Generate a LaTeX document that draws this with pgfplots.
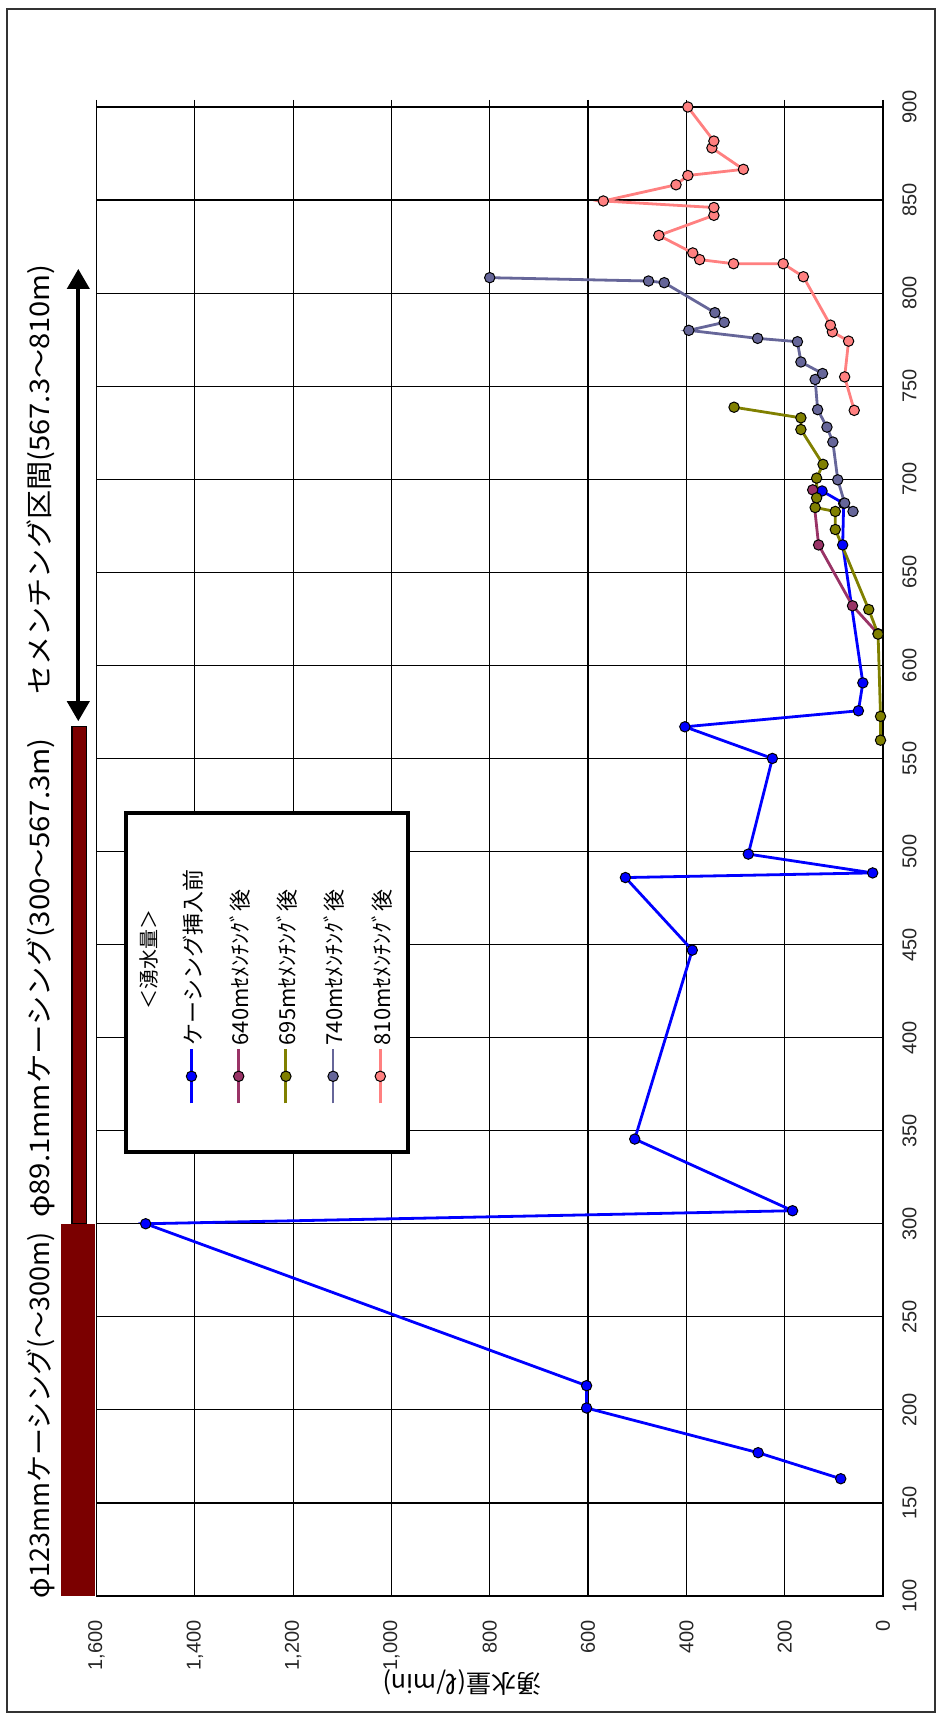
\documentclass[border=0pt]{standalone}
\usepackage{fontspec}
\usepackage{graphicx}
\usepackage{pgfplots}
\pgfplotsset{compat=1.18}
\usetikzlibrary{arrows.meta}
\setmainfont{Liberation Sans}
\newfontfamily\jp{Noto Sans CJK JP}
\definecolor{cA}{HTML}{0000FF}
\definecolor{cB}{HTML}{993366}
\definecolor{cC}{HTML}{808000}
\definecolor{cD}{HTML}{666699}
\definecolor{cE}{HTML}{FF8080}
\definecolor{barred}{HTML}{7B0000}
\pgfplotsset{
  ser/.style={#1, line width=1.4pt, mark=*, mark size=2.6pt,
    mark options={fill=#1, draw=black, line width=0.5pt, solid}},
}
\newcommand{\lent}[1]{\makebox[22.2pt]{\rotatebox{90}{\jp\fontsize{11}{13}\selectfont #1}}}
\begin{document}
\begin{tikzpicture}
\useasboundingbox (0,0) rectangle (470.5pt,860pt);
\draw[line width=0.8pt, black!80] (3.5pt,4pt) rectangle (467.5pt,855.5pt);
\begin{axis}[
  at={(48.25pt,62pt)}, anchor=south west,
  width=393.25pt, height=744.5pt, scale only axis,
  xmin=0, xmax=1600, x dir=reverse,
  ymin=100, ymax=900,
  xtick={0,200,...,1600}, ytick={100,150,...,900},
  grid=major, major grid style={black, line width=0.6pt},
  axis line style={black, line width=0.6pt},
  tick align=outside, major tick length=3.5pt,
  xtick pos=upper, xticklabel pos=lower,
  yticklabel pos=right, ytick style={draw=none},
  xtick style={black, line width=0.6pt},
  /pgf/number format/assume math mode=true,
  /pgf/number format/1000 sep={,},
  ticklabel style={font=\fontsize{10}{12}\selectfont, text=black!85},
  xticklabel style={yshift=-8.5pt, rotate=90, anchor=east, inner sep=0pt},
  yticklabel style={xshift=6pt, rotate=90, anchor=north, inner sep=0pt},
  xlabel={\jp 湧水量(ℓ/min)},
  xlabel style={at={(axis description cs:0.4647,-0.0578)}, anchor=center, rotate=180, font=\fontsize{12.5}{15}\selectfont},
  clip=false,
  legend columns=-1,
  legend style={at={(0.2168,0.412)}, anchor=center,
    draw=black, line width=2pt, fill=white,
    inner xsep=2pt, inner ysep=28.5pt,
    column sep=0pt, row sep=0pt,
    nodes={inner sep=0pt, anchor=base, text depth={}},
    font=\jp},
  legend image code/.code={%
    \path (0pt,0pt);
    \draw[overlay, mark repeat=2, mark phase=2] plot coordinates {(11.1pt,-29pt) (11.1pt,-15.5pt) (11.1pt,-2pt)};},
]
\addlegendimage{empty legend}
\addlegendentry{\rule[-25pt]{0pt}{1pt}\makebox[18.9pt]{\raisebox{18pt}{\rotatebox{90}{\jp\fontsize{10}{12}\selectfont ＜湧水量＞}}}}

\addplot[ser=cA] coordinates {
(86,163) (254,177) (603,201) (603,213) (1500,300) (184,307) (505,345.5)
(388,447) (524,486) (21,488.5) (274,498.6) (225,550) (403,567) (50,575.6)
(41,590.6) (82,664.7) (80,687) (124,693.7)};
\addlegendentry{\lent{ケーシング挿入前}}

\addplot[ser=cB] coordinates {
(10,617) (62,632) (131,664.7) (143,694.3)};
\addlegendentry{\lent{640mｾﾒﾝﾁﾝｸﾞ後}}

\addplot[ser=cC] coordinates {
(5,559.8) (5,572.6) (10,616.8) (29,630) (97,673) (97,682.7) (138,684.8)
(135,690) (135,700.6) (122,708) (167,726.7) (167,733) (303,738.7)};
\addlegendentry{\lent{695mｾﾒﾝﾁﾝｸﾞ後}}

\addplot[ser=cD] coordinates {
(61,682.7) (78,687.2) (92,699.7) (102,720) (114,728) (133,737.4) (138,753.6)
(123,756.8) (167,763) (174,773.9) (255,775.7) (395,780) (323,784.3)
(342,789.5) (445,805.6) (477,806.5) (800,808.3)};
\addlegendentry{\lent{740mｾﾒﾝﾁﾝｸﾞ後}}

\addplot[ser=cE] coordinates {
(58.5,737) (78,755) (70,774.2) (103,779.2) (107,782.8) (162,808.8) (203,815.8)
(304,815.8) (373,818) (387,821.6) (456,831) (344,841.8) (344,846) (569,849.5)
(421,858.2) (397,863.2) (284,866.5) (348,878) (344,881.7) (397,900)};
\addlegendentry{\lent{810mｾﾒﾝﾁﾝｸﾞ後}\hspace{7pt}}

\fill[barred] (axis cs:1604,100) rectangle (axis cs:1672,300);
\filldraw[fill=barred, draw=black, line width=0.6pt] (axis cs:1621,300) rectangle (axis cs:1650,567.3);
\draw[line width=2pt, {Triangle[width=11pt,length=10pt]}-{Triangle[width=11pt,length=10pt]}] (axis cs:1637,570) -- (axis cs:1637,813);
\node[rotate=90, font=\jp\fontsize{13.5}{16}\selectfont] at (axis cs:1713,197) {φ123mmケーシング(～300m)};
\node[rotate=90, xscale=1.09, font=\jp\fontsize{13.5}{16}\selectfont] at (axis cs:1713,432) {φ89.1mmケーシング(300～567.3m)};
\node[rotate=90, xscale=1.08, font=\jp\fontsize{13.5}{16}\selectfont] at (axis cs:1713,700) {セメンチング区間(567.3～810m)};
\end{axis}
\end{tikzpicture}
\end{document}
